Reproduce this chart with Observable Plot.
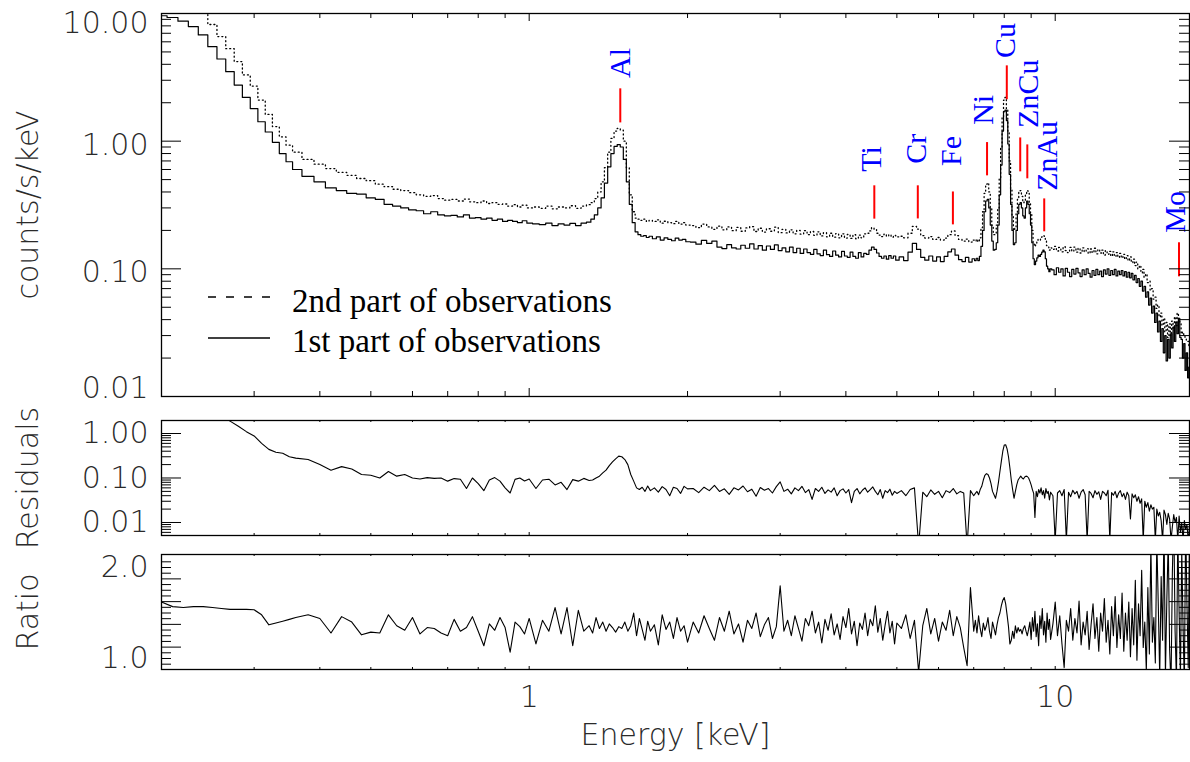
<!DOCTYPE html>
<html>
<head>
<meta charset="utf-8">
<script src="https://cdn.jsdelivr.net/npm/d3@7"></script>
<script src="https://cdn.jsdelivr.net/npm/@observablehq/plot@0.6"></script>
<style>
  html, body { margin: 0; padding: 0; background: #fff; }
  #chart { position: relative; width: 1190px; height: 762px; overflow: hidden; background: #fff; }
  #chart > svg { display: block; }
</style>
</head>
<body>
<div id="chart"></div>
<script>
// ---------------- DATA ----------------
// Energy grid [keV]
const energy = [
  0.20,0.21,0.22,0.23,0.24,0.25,0.26,0.27,0.28,0.29,
  0.30,0.31,0.32,0.33,0.34,0.35,0.36,0.38,0.40,0.42,
  0.44,0.46,0.48,0.50,0.52,0.54,0.56,0.58,0.60,0.62,
  0.64,0.66,0.68,0.70,0.72,0.74,0.76,0.78,0.80,0.82,
  0.84,0.86,0.88,0.90,0.92,0.94,0.96,0.98,1.00,1.03,
  1.06,1.09,1.12,1.15,1.18,1.21,1.24,1.27,1.30,1.32,
  1.34,1.36,1.38,1.40,1.42,1.44,1.46,1.48,1.50,1.52,
  1.54,1.56,1.58,1.60,1.62,1.64,1.66,1.68,1.70,1.73,
  1.76,1.79,1.82,1.85,1.88,1.91,1.94,1.97,2.00,2.05,
  2.10,2.15,2.20,2.25,2.30,2.35,2.40,2.45,2.50,2.55,
  2.60,2.65,2.70,2.75,2.80,2.85,2.90,2.95,3.00,3.05,
  3.10,3.15,3.20,3.25,3.30,3.35,3.40,3.45,3.50,3.55,
  3.60,3.65,3.70,3.75,3.80,3.85,3.90,3.95,4.00,4.05,
  4.10,4.15,4.20,4.25,4.30,4.35,4.40,4.45,4.50,4.55,
  4.60,4.65,4.70,4.75,4.80,4.85,4.90,4.95,5.00,5.10,
  5.20,5.30,5.40,5.50,5.60,5.70,5.80,5.90,6.00,6.10,
  6.20,6.30,6.40,6.50,6.60,6.70,6.80,6.90,7.00,7.05,
  7.10,7.15,7.20,7.25,7.30,7.35,7.40,7.45,7.50,7.55,
  7.60,7.65,7.70,7.75,7.80,7.85,7.90,7.95,8.00,8.05,
  8.10,8.15,8.20,8.25,8.30,8.35,8.40,8.45,8.50,8.55,
  8.60,8.65,8.70,8.75,8.80,8.85,8.90,8.95,9.00,9.05,
  9.10,9.15,9.20,9.25,9.30,9.35,9.40,9.45,9.50,9.55,
  9.60,9.65,9.70,9.75,9.80,9.9,10.0,10.1,10.2,10.3,
  10.4,10.5,10.6,10.7,10.8,10.9,11.0,11.1,11.2,11.3,
  11.4,11.5,11.6,11.7,11.8,11.9,12.0,12.1,12.2,12.3,
  12.4,12.5,12.6,12.7,12.8,12.9,13.0,13.1,13.2,13.3,
  13.4,13.5,13.6,13.7,13.8,13.9,14.0,14.1,14.2,14.3,
  14.4,14.5,14.6,14.7,14.8,14.9,15.0,15.1,15.2,15.3,
  15.4,15.5,15.6,15.7,15.8,15.9,16.0,16.1,16.2,16.3,
  16.4,16.5,16.6,16.7,16.8,16.9,17.0,17.1,17.2,17.3,
  17.4,17.5,17.6,17.7,17.8,17.9,18.0
];
// counts/s/keV, 1st part of observations (solid)
const firstPart = [
  9.6,9.3,8.7,7.9,6.8,5.5,4.4,3.5,2.75,2.2,
  1.8,1.42,1.18,0.98,0.80,0.69,0.60,0.53,0.48,0.43,
  0.41,0.39,0.385,0.36,0.35,0.32,0.31,0.30,0.29,0.285,
  0.27,0.28,0.265,0.26,0.262,0.255,0.265,0.25,0.252,0.245,
  0.25,0.24,0.245,0.235,0.24,0.235,0.23,0.238,0.228,0.225,
  0.222,0.228,0.218,0.225,0.22,0.227,0.218,0.228,0.232,0.245,
  0.265,0.30,0.36,0.47,0.63,0.80,0.91,0.94,0.90,0.72,
  0.48,0.32,0.23,0.195,0.185,0.18,0.182,0.176,0.18,0.172,
  0.178,0.168,0.175,0.17,0.166,0.174,0.168,0.17,0.163,0.162,
  0.156,0.167,0.158,0.165,0.148,0.144,0.155,0.146,0.143,0.153,
  0.145,0.157,0.143,0.152,0.14,0.151,0.142,0.154,0.139,0.146,
  0.136,0.148,0.134,0.145,0.132,0.143,0.134,0.13,0.142,0.131,
  0.127,0.14,0.129,0.125,0.138,0.128,0.124,0.137,0.126,0.123,
  0.135,0.125,0.121,0.134,0.124,0.132,0.13,0.14,0.148,0.142,
  0.133,0.125,0.121,0.126,0.119,0.127,0.121,0.126,0.117,0.124,
  0.116,0.135,0.158,0.142,0.123,0.117,0.126,0.115,0.124,0.114,
  0.125,0.136,0.143,0.128,0.118,0.114,0.123,0.113,0.12,0.116,
  0.121,0.116,0.125,0.15,0.2,0.28,0.34,0.35,0.3,0.22,
  0.165,0.14,0.142,0.16,0.22,0.38,0.65,1.2,1.7,1.75,
  1.45,0.95,0.55,0.32,0.2,0.155,0.16,0.2,0.27,0.32,
  0.33,0.3,0.26,0.25,0.3,0.34,0.32,0.27,0.22,0.16,
  0.12,0.108,0.115,0.122,0.128,0.125,0.13,0.135,0.14,0.136,
  0.12,0.105,0.1,0.095,0.1,0.098,0.09,0.102,0.094,0.1,
  0.088,0.101,0.094,0.087,0.099,0.091,0.101,0.093,0.087,0.098,
  0.09,0.1,0.092,0.086,0.097,0.089,0.099,0.09,0.096,0.087,
  0.098,0.091,0.1,0.089,0.097,0.09,0.099,0.088,0.096,0.09,
  0.097,0.088,0.095,0.086,0.094,0.085,0.092,0.082,0.089,0.078,
  0.084,0.073,0.08,0.067,0.073,0.06,0.066,0.052,0.059,0.045,
  0.051,0.038,0.045,0.032,0.039,0.027,0.034,0.022,0.03,0.019,
  0.028,0.02,0.031,0.024,0.035,0.027,0.038,0.031,0.041,0.029,
  0.028,0.02,0.026,0.016,0.022,0.014,0.017
];
// counts/s/keV, 2nd part of observations (dotted)
const secondPart = [
  14.5,14.0,13.0,11.8,10.2,8.2,6.6,5.3,4.2,3.3,
  2.7,2.1,1.62,1.3,1.08,0.93,0.82,0.72,0.66,0.61,
  0.57,0.54,0.51,0.49,0.46,0.44,0.42,0.41,0.395,0.38,
  0.37,0.375,0.355,0.345,0.35,0.34,0.352,0.335,0.33,0.34,
  0.325,0.33,0.32,0.322,0.31,0.318,0.305,0.315,0.30,0.305,
  0.298,0.31,0.295,0.305,0.30,0.312,0.298,0.31,0.318,0.33,
  0.355,0.40,0.48,0.62,0.82,1.05,1.2,1.26,1.22,1.0,
  0.62,0.38,0.28,0.25,0.245,0.24,0.245,0.235,0.24,0.235,
  0.242,0.228,0.236,0.23,0.226,0.235,0.224,0.23,0.22,0.218,
  0.21,0.224,0.213,0.204,0.216,0.202,0.213,0.199,0.211,0.197,
  0.209,0.214,0.196,0.208,0.194,0.206,0.197,0.212,0.192,0.204,
  0.191,0.202,0.188,0.2,0.187,0.199,0.185,0.196,0.183,0.195,
  0.181,0.192,0.178,0.19,0.177,0.189,0.175,0.188,0.174,0.186,
  0.173,0.185,0.172,0.184,0.175,0.188,0.19,0.198,0.21,0.204,
  0.19,0.184,0.179,0.187,0.18,0.185,0.177,0.183,0.178,0.18,
  0.175,0.19,0.215,0.205,0.182,0.174,0.179,0.17,0.176,0.168,
  0.174,0.185,0.198,0.182,0.17,0.165,0.171,0.162,0.168,0.165,
  0.17,0.163,0.175,0.21,0.28,0.39,0.46,0.47,0.4,0.3,
  0.22,0.185,0.19,0.22,0.3,0.52,0.88,1.55,2.1,2.2,
  1.8,1.2,0.7,0.42,0.26,0.2,0.21,0.27,0.35,0.4,
  0.41,0.37,0.33,0.34,0.38,0.41,0.39,0.33,0.27,0.2,
  0.16,0.15,0.158,0.165,0.17,0.168,0.172,0.178,0.182,0.18,
  0.165,0.152,0.148,0.14,0.146,0.142,0.15,0.138,0.147,0.136,
  0.149,0.139,0.134,0.147,0.137,0.148,0.135,0.145,0.133,0.146,
  0.136,0.144,0.132,0.143,0.134,0.145,0.131,0.142,0.133,0.14,
  0.128,0.139,0.13,0.137,0.126,0.136,0.125,0.134,0.123,0.132,
  0.122,0.13,0.119,0.127,0.116,0.124,0.112,0.119,0.106,0.113,
  0.1,0.106,0.093,0.099,0.086,0.091,0.078,0.08,0.068,0.07,
  0.058,0.06,0.049,0.052,0.042,0.045,0.036,0.041,0.032,0.038,
  0.029,0.037,0.03,0.039,0.033,0.042,0.036,0.045,0.039,0.038,
  0.031,0.032,0.03,0.029,0.027,0.027,0.025
];
// Residuals
const residuals = [
  5.5,5.2,4.6,4.0,3.4,2.8,2.3,1.9,1.45,1.1,
  0.88,0.6,0.44,0.38,0.36,0.3,0.28,0.26,0.2,0.15,
  0.18,0.16,0.12,0.115,0.1,0.14,0.11,0.12,0.1,0.095,
  0.102,0.098,0.1,0.085,0.097,0.094,0.058,0.1,0.075,0.052,
  0.09,0.102,0.085,0.06,0.046,0.093,0.1,0.086,0.095,0.058,
  0.09,0.094,0.07,0.08,0.055,0.092,0.085,0.098,0.088,0.09,
  0.1,0.11,0.13,0.15,0.19,0.23,0.27,0.31,0.3,0.26,
  0.2,0.12,0.085,0.06,0.055,0.062,0.05,0.066,0.052,0.06,
  0.048,0.064,0.055,0.04,0.062,0.058,0.045,0.065,0.057,0.058,
  0.047,0.062,0.052,0.068,0.05,0.057,0.043,0.06,0.054,0.066,
  0.049,0.056,0.039,0.061,0.053,0.058,0.046,0.064,0.082,0.05,
  0.056,0.044,0.06,0.052,0.065,0.047,0.055,0.033,0.058,0.05,
  0.062,0.045,0.054,0.048,0.06,0.04,0.052,0.057,0.046,0.055,
  0.028,0.05,0.058,0.044,0.053,0.06,0.048,0.055,0.063,0.05,
  0.042,0.055,0.035,0.052,0.047,0.056,0.041,0.05,0.045,0.052,
  0.04,0.055,0.06,0.003,0.048,0.038,0.054,0.043,0.05,0.036,
  0.052,0.047,0.058,0.044,0.05,0.046,0.003,0.052,0.04,0.045,
  0.05,0.042,0.055,0.065,0.09,0.115,0.125,0.12,0.1,0.075,
  0.05,0.042,0.035,0.05,0.08,0.14,0.24,0.4,0.55,0.56,
  0.45,0.3,0.17,0.09,0.055,0.035,0.05,0.07,0.09,0.1,
  0.11,0.1,0.095,0.105,0.11,0.108,0.1,0.085,0.07,0.055,
  0.045,0.013,0.05,0.038,0.055,0.046,0.06,0.042,0.052,0.035,
  0.058,0.045,0.05,0.032,0.048,0.04,0.004,0.046,0.052,0.04,
  0.055,0.004,0.048,0.038,0.053,0.044,0.05,0.035,0.048,0.055,
  0.042,0.004,0.05,0.045,0.036,0.052,0.043,0.049,0.033,0.05,
  0.046,0.04,0.053,0.004,0.047,0.041,0.05,0.036,0.046,0.052,
  0.038,0.045,0.033,0.048,0.04,0.012,0.044,0.036,0.042,0.03,
  0.038,0.027,0.034,0.004,0.03,0.022,0.028,0.018,0.025,0.02,
  0.022,0.004,0.02,0.014,0.017,0.011,0.004,0.019,0.015,0.009,
  0.016,0.012,0.004,0.008,0.015,0.01,0.013,0.004,0.014,0.006,
  0.01,0.004,0.011,0.007,0.009,0.004,0.008
];
// Ratio
const ratio = [
  1.62,1.57,1.56,1.57,1.57,1.56,1.55,1.54,1.54,1.54,
  1.535,1.48,1.37,1.39,1.41,1.43,1.45,1.48,1.44,1.28,
  1.46,1.4,1.26,1.29,1.28,1.48,1.36,1.31,1.45,1.27,
  1.34,1.33,1.28,1.25,1.43,1.3,1.34,1.46,1.3,1.14,
  1.38,1.31,1.45,1.34,1.07,1.4,1.35,1.27,1.44,1.16,
  1.42,1.3,1.56,1.27,1.56,1.14,1.53,1.3,1.36,1.28,
  1.45,1.33,1.4,1.3,1.38,1.34,1.29,1.35,1.33,1.4,
  1.3,1.36,1.5,1.25,1.44,1.32,1.2,1.41,1.3,1.37,
  1.15,1.48,1.32,1.4,1.22,1.45,1.3,1.36,1.18,1.4,
  1.28,1.47,1.33,1.2,1.45,1.3,1.52,1.27,1.38,1.18,
  1.42,1.33,1.5,1.24,1.37,1.45,1.22,1.35,1.8,1.3,
  1.42,1.25,1.47,1.33,1.19,1.44,1.36,1.52,1.28,1.4,
  1.17,1.43,1.31,1.49,1.26,1.38,1.21,1.46,1.34,1.55,
  1.27,1.41,1.14,1.39,1.32,1.5,1.25,1.43,1.36,1.58,
  1.29,1.44,1.2,1.37,1.52,1.28,1.41,1.16,1.39,1.33,
  1.48,1.22,1.42,0.85,1.36,1.55,1.27,1.44,1.19,1.4,
  1.31,1.53,1.25,1.46,1.34,1.12,0.92,1.78,1.3,1.42,
  1.28,1.47,1.33,1.24,1.39,1.31,1.36,1.45,1.3,1.22,
  1.4,1.33,1.26,1.37,1.45,1.5,1.58,1.64,1.67,1.6,
  1.48,1.35,1.16,1.2,1.3,1.22,1.36,1.28,1.34,1.3,
  1.32,1.27,1.33,1.36,1.3,1.25,1.32,1.4,1.21,1.45,
  1.3,1.52,1.24,1.38,1.14,1.47,1.33,1.55,1.26,1.41,
  1.18,1.5,1.32,1.43,1.21,1.38,1.62,1.25,1.47,1.16,
  0.9,1.42,1.3,1.55,1.2,1.44,1.28,1.63,1.15,1.4,
  1.26,1.52,1.1,1.37,1.6,1.22,1.45,1.08,1.5,1.3,
  1.66,1.18,1.42,1.05,1.57,1.25,1.68,1.12,1.48,1.22,
  1.72,1.08,1.5,1.2,1.62,1.02,1.55,1.15,1.86,0.98,
  1.6,1.25,1.97,1.12,1.4,0.86,1.78,1.05,2.25,1.18,
  1.45,0.95,2.3,1.6,0.8,1.9,1.2,2.5,0.82,1.65,
  2.3,1.1,0.7,1.95,2.6,1.3,0.75,2.4,1.5,0.8,
  2.2,1.35,0.7,2.5,1.6,0.9,2.3
];
// Line identification markers (energy, top and bottom of the red tick in counts/s/keV)
const markerEnergy = [1.49, 4.53, 5.48, 6.39, 7.42, 8.09, 8.58, 8.85, 9.53, 17.19];
const markerTop    = [2.57, 0.447, 0.447, 0.40, 0.975, 3.89, 1.06, 0.935, 0.353, 0.16];
const markerBottom = [1.39, 0.245, 0.246, 0.221, 0.535, 2.11, 0.575, 0.507, 0.195, 0.0866];
// Line labels
const labelNames  = ["Al", "Ti", "Cr", "Fe", "Ni", "Cu", "ZnCu", "ZnAu", "Mo"];
const labelEnergy = [1.488, 4.48, 5.45, 6.35, 7.30, 8.03, 8.89, 9.66, 16.94];
const labelBase   = [3.13, 0.575, 0.664, 0.64, 1.342, 4.49, 1.27, 0.408, 0.192];
// Texts
const legendLabels = ["2nd part of observations", "1st part of observations"];
const axisTitles = {top: "counts/s/keV", mid: "Residuals", bottom: "Ratio", x: "Energy [keV]"};
const topTickLabels = [10, 1, 0.1, 0.01];
const residTickLabels = [1, 0.1, 0.01];
const ratioTickLabels = [2.0, 1.0];
const xTickLabels = [1, 10];

// ---------------- LAYOUT ----------------
const W = 1190, ML = 161, MR = 1, FW = W - ML - MR;
const xDomain = [0.2, 18];
const SANS = "'DejaVu Sans', 'Liberation Sans', sans-serif";
const SERIF = "'Liberation Serif', 'Times New Roman', serif";
const INK = "#2a2a2a";
const FONT_W = 200;

const rows = energy.map((e, i) => ({e, s1: firstPart[i], s2: secondPart[i], r: residuals[i], q: ratio[i]}));
const markers = markerEnergy.map((e, i) => ({e, top: markerTop[i], bottom: markerBottom[i]}));
const labels = labelNames.map((name, i) => ({name, e: labelEnergy[i], base: labelBase[i]}));

const isDecade = d => Math.abs(Math.log10(d) - Math.round(Math.log10(d))) < 1e-9;
const xAll = d3.scaleLog().domain(xDomain).ticks().filter(d => d > xDomain[0] * 1.01 && d < xDomain[1]);
const xMajor = xAll.filter(isDecade), xMinor = xAll.filter(d => !isDecade(d));

function xTickMarks(frameH, major, minor) {
  return [
    Plot.tickX(xMajor, {x: d => d, insetTop: frameH - major, stroke: "black"}),
    Plot.tickX(xMinor, {x: d => d, insetTop: frameH - minor, stroke: "black"}),
    Plot.tickX(xMajor, {x: d => d, insetBottom: frameH - major, stroke: "black"}),
    Plot.tickX(xMinor, {x: d => d, insetBottom: frameH - minor, stroke: "black"})
  ];
}
function yTickMarks(ticks, majorTest, major = 20, minor = 10) {
  const maj = ticks.filter(majorTest), min = ticks.filter(d => !majorTest(d));
  return [
    Plot.tickY(maj, {y: d => d, insetRight: FW - major, stroke: "black"}),
    Plot.tickY(min, {y: d => d, insetRight: FW - minor, stroke: "black"}),
    Plot.tickY(maj, {y: d => d, insetLeft: FW - major, stroke: "black"}),
    Plot.tickY(min, {y: d => d, insetLeft: FW - minor, stroke: "black"})
  ];
}
const sansText = {fontFamily: SANS, fontSize: 30, fontWeight: FONT_W, fill: INK};
function yLabel(vals, fmt, dy) {
  return Plot.text(vals, {y: d => d, frameAnchor: "left", dx: -13, dy, textAnchor: "end", text: fmt, ...sansText});
}
function yTitle(t) {
  return Plot.text([t], {text: d => d, frameAnchor: "left", dx: -133, rotate: -90, textAnchor: "middle", lineAnchor: "middle", ...sansText});
}
const frame = Plot.frame({stroke: "black", strokeWidth: 1.3});

// ---- Top panel: spectra ----
const topTicks = d3.scaleLog().domain([0.01, 10]).ticks();
const topPlot = Plot.plot({
  width: W, height: 405, marginTop: 13, marginBottom: 9, marginLeft: ML, marginRight: MR,
  x: {type: "log", domain: xDomain, axis: null},
  y: {type: "log", domain: [0.01, 10], axis: null},
  style: {background: "white", overflow: "visible"},
  marks: [
    Plot.line(rows, {x: "e", y: "s2", curve: "step", stroke: "black", strokeWidth: 1.3, strokeDasharray: "1,3", clip: true}),
    Plot.line(rows, {x: "e", y: "s1", curve: "step", stroke: "black", strokeWidth: 1.2, clip: true}),
    Plot.ruleX(markers, {x: "e", y1: "top", y2: "bottom", stroke: "#ff0000", strokeWidth: 2}),
    Plot.text(labels, {x: "e", y: "base", text: "name", rotate: -90, textAnchor: "start", lineAnchor: "middle",
      fill: "#0000ff", fontFamily: SERIF, fontSize: 30}),
    ...yTickMarks(topTicks, isDecade),
    ...xTickMarks(383, 8, 5),
    frame,
    yLabel(topTickLabels.filter(d => d === 1 || d === 0.1), d => d.toFixed(2), 4),
    yLabel(topTickLabels.filter(d => d === 10), d => d.toFixed(2), 10),
    yLabel(topTickLabels.filter(d => d === 0.01), d => d.toFixed(2), -8),
    yTitle(axisTitles.top)
  ]
});

// ---- Middle panel: residuals ----
const residDomain = [0.0051, 1.96];
const residTicks = d3.scaleLog().domain(residDomain).ticks();
const midPlot = Plot.plot({
  width: W, height: 140, marginTop: 15, marginBottom: 10, marginLeft: ML, marginRight: MR,
  x: {type: "log", domain: xDomain, axis: null},
  y: {type: "log", domain: residDomain, axis: null},
  style: {background: "white", overflow: "visible"},
  marks: [
    Plot.line(rows, {x: "e", y: "r", stroke: "black", strokeWidth: 1.1, clip: true}),
    ...yTickMarks(residTicks, isDecade),
    ...xTickMarks(115, 3, 2),
    frame,
    yLabel(residTickLabels, d => d.toFixed(2), 0),
    yTitle(axisTitles.mid)
  ]
});

// ---- Bottom panel: ratio ----
const ratioDomain = [0.879, 2.143];
const ratioTicks = d3.range(-1, 18).map(k => 1 + k / 16);
const ratioMajor = d => Math.abs(((d - 1) * 16 - 2) / 4 - Math.round(((d - 1) * 16 - 2) / 4)) < 1e-9;
const botPlot = Plot.plot({
  width: W, height: 217, marginTop: 9, marginBottom: 93, marginLeft: ML, marginRight: MR,
  x: {type: "log", domain: xDomain, axis: null},
  y: {domain: ratioDomain, axis: null},
  style: {background: "white", overflow: "visible"},
  marks: [
    Plot.line(rows, {x: "e", y: "q", stroke: "black", strokeWidth: 1.1, clip: true}),
    ...yTickMarks(ratioTicks, ratioMajor),
    ...xTickMarks(115, 3, 2),
    frame,
    yLabel(ratioTickLabels, d => d.toFixed(1), 0),
    yTitle(axisTitles.bottom),
    Plot.text(xTickLabels, {x: d => d, frameAnchor: "bottom", dy: 37, text: d => String(d), ...sansText}),
    Plot.text([axisTitles.x], {text: d => d, frameAnchor: "bottom", textAnchor: "middle", dy: 75, ...sansText})
  ]
});

const chart = document.getElementById("chart");
chart.append(topPlot, midPlot, botPlot);

// ---- Legend (overlay inside the top panel) ----
const leg = d3.select(chart).append("svg")
  .attr("width", W).attr("height", 762)
  .style("position", "absolute").style("left", "0px").style("top", "0px")
  .style("pointer-events", "none");
const legG = leg.append("g").attr("font-family", SERIF).attr("font-size", 33).attr("fill", "black");
legendLabels.forEach((t, i) => {
  const yLine = 297 + i * 41, yText = 312 + i * 40;
  legG.append("line").attr("x1", 208).attr("x2", 270).attr("y1", yLine).attr("y2", yLine)
    .attr("stroke", "black").attr("stroke-width", 1.4)
    .attr("stroke-dasharray", i === 0 ? "8,10" : null);
  legG.append("text").attr("x", 292).attr("y", yText).text(t);
});
</script>
</body>
</html>
